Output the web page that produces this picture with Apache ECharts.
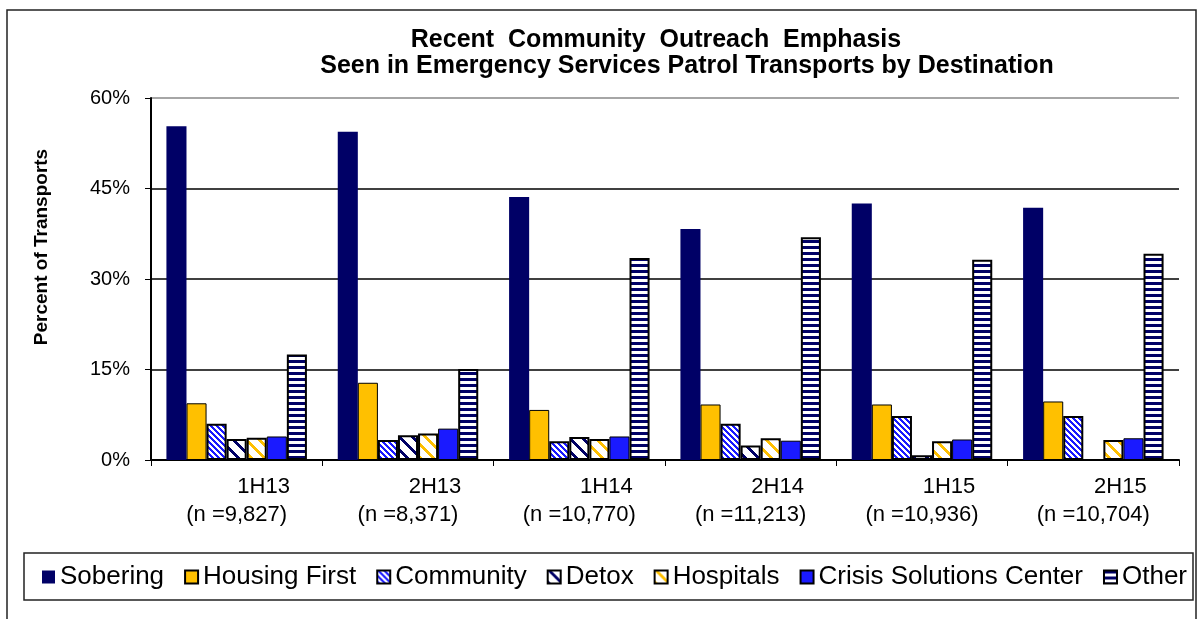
<!DOCTYPE html>
<html>
<head>
<meta charset="utf-8">
<script src="https://cdn.jsdelivr.net/npm/echarts@6/dist/echarts.min.js"></script>
<style>
  html, body { margin: 0; padding: 0; background: #fff; }
  #chart { width: 1200px; height: 619px; }
</style>
</head>
<body>
<div id="chart"></div>
<script>
// Half-year periods and their transport counts
const periods = ['1H13', '2H13', '1H14', '2H14', '1H15', '2H15'];
const sampleSizes = ['9,827', '8,371', '10,770', '11,213', '10,936', '10,704'];
const yTicks = [0, 15, 30, 45, 60];

// Share of transports (%) by destination
const sobering     = [55.3, 54.4, 43.6, 38.3, 42.5, 41.8];
const housingFirst = [9.4, 12.8, 8.3, 9.2, 9.2, 9.7];
const community    = [6.0, 3.3, 3.1, 6.0, 7.3, 7.3];
const detox        = [3.5, 4.1, 3.8, 2.4, 0.8, null];
const hospitals    = [3.7, 4.4, 3.5, 3.6, 3.1, 3.3];
const crisisCenter = [3.9, 5.2, 3.9, 3.2, 3.4, 3.6];
const other        = [17.5, 15.1, 33.5, 36.9, 33.2, 34.2];

const FONT = "'Liberation Sans', Arial, sans-serif";
const NAVY = '#000066';
const GOLD = '#FFC000';
const BLUE = '#1A1AFF';

// Diagonal stripe tile: stripes run top-left to bottom-right
function diagonalTile(size, width, fg, bg) {
  const c = document.createElement('canvas');
  c.width = size; c.height = size;
  const ctx = c.getContext('2d');
  ctx.fillStyle = bg; ctx.fillRect(0, 0, size, size);
  ctx.fillStyle = fg;
  for (let y = 0; y < size; y++) {
    for (let x = 0; x < size; x++) {
      const d = (((x - y) % size) + size) % size;
      if (d < width) ctx.fillRect(x, y, 1, 1);
    }
  }
  return c;
}

// Horizontal stripe tile
function horizontalTile(period, width, fg, bg) {
  const c = document.createElement('canvas');
  c.width = 4; c.height = period;
  const ctx = c.getContext('2d');
  ctx.fillStyle = bg; ctx.fillRect(0, 0, 4, period);
  ctx.fillStyle = fg; ctx.fillRect(0, 0, 4, width);
  return c;
}

const pat = (canvas) => ({ image: canvas, repeat: 'repeat' });

const seriesDefs = [
  { name: 'Sobering', data: sobering, color: NAVY, border: 0 },
  { name: 'Housing First', data: housingFirst, color: GOLD, border: 1 },
  { name: 'Community', data: community, color: pat(diagonalTile(6, 3, BLUE, '#ffffff')), border: 2 },
  { name: 'Detox', data: detox, color: pat(diagonalTile(13, 4, NAVY, '#ffffff')), border: 2 },
  { name: 'Hospitals', data: hospitals, color: pat(diagonalTile(13, 4, GOLD, '#ffffff')), border: 2 },
  { name: 'Crisis Solutions Center', data: crisisCenter, color: BLUE, border: 1 },
  { name: 'Other', data: other, color: pat(horizontalTile(6, 3, NAVY, '#ffffff')), border: 2 }
];

const titleStyle = { fontFamily: FONT, fontSize: 25, fontWeight: 'bold', color: '#000' };

const chart = echarts.init(document.getElementById('chart'), null, { renderer: 'canvas' });

chart.setOption({
  animation: false,
  backgroundColor: '#ffffff',
  textStyle: { fontFamily: FONT, color: '#000' },
  title: [
    {
      text: 'Recent  Community  Outreach  Emphasis',
      left: 656, top: 28, textAlign: 'center', padding: 0,
      textStyle: titleStyle
    },
    {
      text: 'Seen in Emergency Services Patrol Transports by Destination',
      left: 687, top: 54, textAlign: 'center', padding: 0,
      textStyle: titleStyle
    }
  ],
  legend: {
    left: 42,
    top: 564,
    padding: 0,
    itemWidth: 13,
    itemHeight: 13,
    itemGap: 20,
    icon: 'rect',
    textStyle: { fontFamily: FONT, fontSize: 26, color: '#000' },
    data: seriesDefs.map(s => s.name)
  },
  grid: { left: 151, right: 21, top: 98, bottom: 159, containLabel: false },
  xAxis: {
    type: 'category',
    data: periods,
    axisLine: { lineStyle: { color: '#000', width: 2 } },
    axisTick: { show: true, length: 6, lineStyle: { color: '#000', width: 1 } },
    axisLabel: {
      margin: 14,
      formatter: (v, i) => '{p|' + v + '}\n{n|(n =' + sampleSizes[i] + ')}',
      rich: {
        p: { fontFamily: FONT, fontSize: 22, color: '#000', lineHeight: 25, padding: [0, 0, 0, 54] },
        n: { fontFamily: FONT, fontSize: 22, color: '#000', lineHeight: 31 }
      }
    }
  },
  yAxis: {
    type: 'value',
    min: yTicks[0],
    max: yTicks[yTicks.length - 1],
    interval: 15,
    axisLine: { show: true, lineStyle: { color: '#000', width: 2 } },
    axisTick: { show: true, length: 6, lineStyle: { color: '#000', width: 1 } },
    axisLabel: { fontFamily: FONT, fontSize: 20, color: '#000', margin: 21, formatter: '{value}%' },
    splitLine: { show: true, lineStyle: { color: ['#000', '#000', '#000', '#000', '#888'], width: 1.5 } }
  },
  graphic: [
    {
      type: 'rect', silent: true, z: -1,
      shape: { x: 7, y: 10, width: 1189, height: 640 },
      style: { fill: 'none', stroke: '#222', lineWidth: 1.5 }
    },
    {
      type: 'rect', silent: true,
      shape: { x: 24, y: 553, width: 1169, height: 47 },
      style: { fill: 'none', stroke: '#222', lineWidth: 1.5 }
    },
    {
      type: 'text', silent: true,
      x: 42, y: 247, rotation: Math.PI / 2,
      style: {
        text: 'Percent of Transports',
        font: 'bold 19px ' + FONT,
        fill: '#000',
        textAlign: 'center',
        textVerticalAlign: 'middle'
      }
    }
  ],
  series: seriesDefs.map(s => ({
    name: s.name,
    type: 'bar',
    data: s.data,
    barGap: '0%',
    barCategoryGap: '18%',
    itemStyle: {
      color: s.color,
      borderColor: s.border ? '#000' : NAVY,
      borderWidth: s.border
    }
  }))
});
</script>
</body>
</html>
